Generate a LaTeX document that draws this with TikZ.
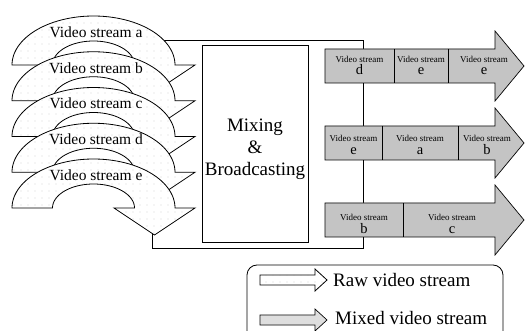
\documentclass[tikz,border=0pt]{standalone}
\usepackage{fontspec}
\setmainfont{Liberation Serif}
\usetikzlibrary{patterns.meta}
\begin{document}
\begin{tikzpicture}[x=1pt,y=-1pt,
  rawarrow/.style={draw=black, line width=0.8pt, line join=miter, fill=white,
    postaction={pattern={Dots[distance=7pt,radius=0.4pt]}, pattern color=black!45}},
  mixarrow/.style={draw=black, line width=0.7pt, fill=black!20,
    postaction={pattern={Dots[distance=2pt,radius=0.45pt]}, pattern color=black!55}},
  mixlight/.style={draw=black, line width=0.7pt, fill=black!10,
    postaction={pattern={Dots[distance=2pt,radius=0.4pt]}, pattern color=black!40}},
  framebox/.style={draw=black, line width=0.8pt, fill=white},
  divider/.style={draw=black, line width=0.6pt},
  vlabel/.style={font=\fontsize{15.5}{16}\selectfont, inner sep=0pt},
  celltext/.style={font=\fontsize{9}{10}\selectfont, inner sep=0pt, anchor=base},
  cellletter/.style={font=\fontsize{14.5}{15}\selectfont, inner sep=0pt, anchor=base},
  bigtext/.style={font=\fontsize{19}{22}\selectfont, inner sep=0pt, align=center},
  legtext/.style={font=\fontsize{19}{20}\selectfont, inner sep=0pt, anchor=west},
]
\useasboundingbox (0,0) rectangle (525,331);
\clip (0,0) rectangle (525,331);
\newcommand\mycell[5]{%
  \node[celltext] (#1t) at (#2,#3) {Video stream};
  \node[cellletter] (#1l) at (#2,#4) {#5};}

% background frame
\node[framebox, minimum width=211pt, minimum height=208pt, inner sep=0pt] (frame) at (257.5,144) {};

% curved raw video stream arrows
\foreach \B/\l in {65/a,100.75/b,136.5/c,172.25/d,208/e}{
  \draw[rawarrow] plot[domain=180:0,samples=60] ({93.5+81.5*cos(\x)},{\B-49*sin(\x)})
     -- (195,\B) -- (154.5,\B+27) -- (114,\B)
     -- plot[domain=0:180,samples=60] ({93.5+41*cos(\x)},{\B-24*sin(\x)}) -- cycle;
  \node[vlabel] (v\l) at (96,\B-33) {Video stream \l};
}

% mixing box
\node[framebox, minimum width=106pt, minimum height=197pt, inner sep=0pt] (mix) at (255,143.5) {};
\node[bigtext] (mixtext) at (255,149) {Mixing\\\&\\Broadcasting};

% mixed video stream arrows
\foreach \C/\n in {66/1,143/2,220/3}{
  \draw[mixarrow] (325,\C-17) -- (495,\C-17) -- (495,\C-35) -- (524,\C)
     -- (495,\C+35) -- (495,\C+17) -- (325,\C+17) -- cycle;
}
\draw[divider] (394,49) -- (394,83);
\draw[divider] (448,49) -- (448,83);
\draw[divider] (382,126) -- (382,160);
\draw[divider] (458,126) -- (458,160);
\draw[divider] (403,203) -- (403,237);

\mycell{ma}{359.5}{63}{75}{d}
\mycell{mb}{421}{63}{75}{e}
\mycell{mc}{484}{63}{75}{e}
\mycell{na}{353.5}{142}{155}{e}
\mycell{nb}{420}{142}{155}{a}
\mycell{nc}{487}{142}{155}{b}
\mycell{pa}{364}{221}{234}{b}
\mycell{pb}{452}{221}{234}{c}

% legend
\draw[line width=0.8pt, rounded corners=10pt] (247,265) rectangle (503,350);
\draw[rawarrow] (260,275) -- (315,275) -- (315,269) -- (327,280) -- (315,291) -- (315,285) -- (260,285) -- cycle;
\node[legtext] (lraw) at (333,280) {Raw video stream};
\draw[mixlight] (260,315) -- (315,315) -- (315,309) -- (327,320) -- (315,331) -- (315,325) -- (260,325) -- cycle;
\node[legtext] (lmix) at (335,318.5) {Mixed video stream};
\end{tikzpicture}
\end{document}
